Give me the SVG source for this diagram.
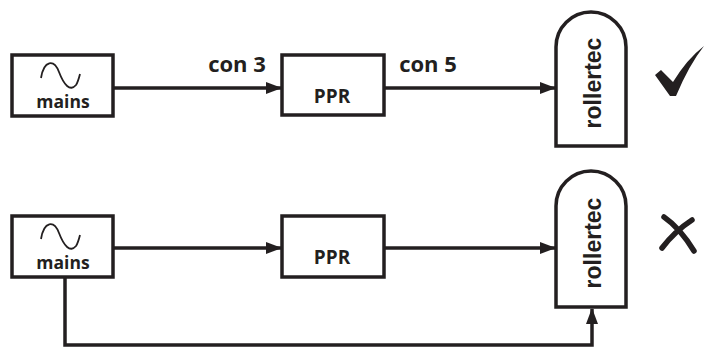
<svg xmlns="http://www.w3.org/2000/svg" width="709" height="351" viewBox="0 0 709 351">
<defs>
<style>
.box{fill:#fff;stroke:#231f20;stroke-width:3.5}
.ln{fill:none;stroke:#231f20;stroke-width:3.5}
.sine{fill:none;stroke:#231f20;stroke-width:1.8}
.lbl{font-family:"Open Sans","Noto Sans",sans-serif;font-weight:bold;fill:#231f20}
.rt{font-family:"Liberation Sans",Arial,sans-serif;font-weight:bold;fill:#231f20;font-size:23px}
</style>
<marker id="ah" markerWidth="16" markerHeight="12" refX="15" refY="6" orient="auto" markerUnits="userSpaceOnUse">
<path d="M0,0 L16,6 L0,12 Z" fill="#231f20"/>
</marker>
</defs>
<rect width="709" height="351" fill="#fff"/>
<g id="connectors">
<line class="ln" x1="113" y1="88" x2="281" y2="88" marker-end="url(#ah)"/>
<line class="ln" x1="384" y1="88" x2="555" y2="88" marker-end="url(#ah)"/>
<line class="ln" x1="113" y1="248" x2="281" y2="248" marker-end="url(#ah)"/>
<line class="ln" x1="384" y1="248" x2="555" y2="248" marker-end="url(#ah)"/>
<polyline class="ln" points="65,277 65,345 592,345 592,309" marker-end="url(#ah)"/>
<text class="lbl" x="237" y="72" font-size="22" text-anchor="middle">con 3</text>
<text class="lbl" x="428" y="72" font-size="22" text-anchor="middle">con 5</text>
</g>
<g id="mains1">
<rect class="box" x="12" y="55" width="101" height="61"/>
<path class="sine" d="M41,78 C44,60 54,59 59,72 C64,85 70,92 76,85 C78,82 79,78 80,74"/>
<text class="lbl" x="63" y="108" font-size="17.5" text-anchor="middle">mains</text>
</g>
<g id="ppr1">
<rect class="box" x="282" y="55" width="102" height="60"/>
<text class="lbl" x="332" y="103" font-size="19" text-anchor="middle">PPR</text>
</g>
<g id="rollertec1">
<path class="box" d="M556,146 V47 A35,35 0 0 1 626,47 V146 Z"/>
<text class="rt" transform="translate(601,83) rotate(-90)" text-anchor="middle">rollertec</text>
</g>
<g id="check">
<path d="M655,75 L661,70 L673,82 Q687,59 704,46 Q689,65 676,96 L670,96 Z" fill="#231f20"/>
</g>
<g id="mains2">
<rect class="box" x="12" y="216" width="101" height="61"/>
<path class="sine" d="M41,239 C44,221 54,220 59,233 C64,246 70,253 76,246 C78,243 79,239 80,235"/>
<text class="lbl" x="63" y="269" font-size="17.5" text-anchor="middle">mains</text>
</g>
<g id="ppr2">
<rect class="box" x="282" y="216" width="102" height="61"/>
<text class="lbl" x="332" y="264" font-size="19" text-anchor="middle">PPR</text>
</g>
<g id="rollertec2">
<path class="box" d="M556,307 V206 A35,35 0 0 1 626,206 V307 Z"/>
<text class="rt" transform="translate(601,243) rotate(-90)" text-anchor="middle">rollertec</text>
</g>
<g id="cross">
<path d="M664,217 Q680,228 694,251 M692,220 Q675,231 662,248" fill="none" stroke="#231f20" stroke-width="5.5" stroke-linecap="round"/>
</g>
</svg>
